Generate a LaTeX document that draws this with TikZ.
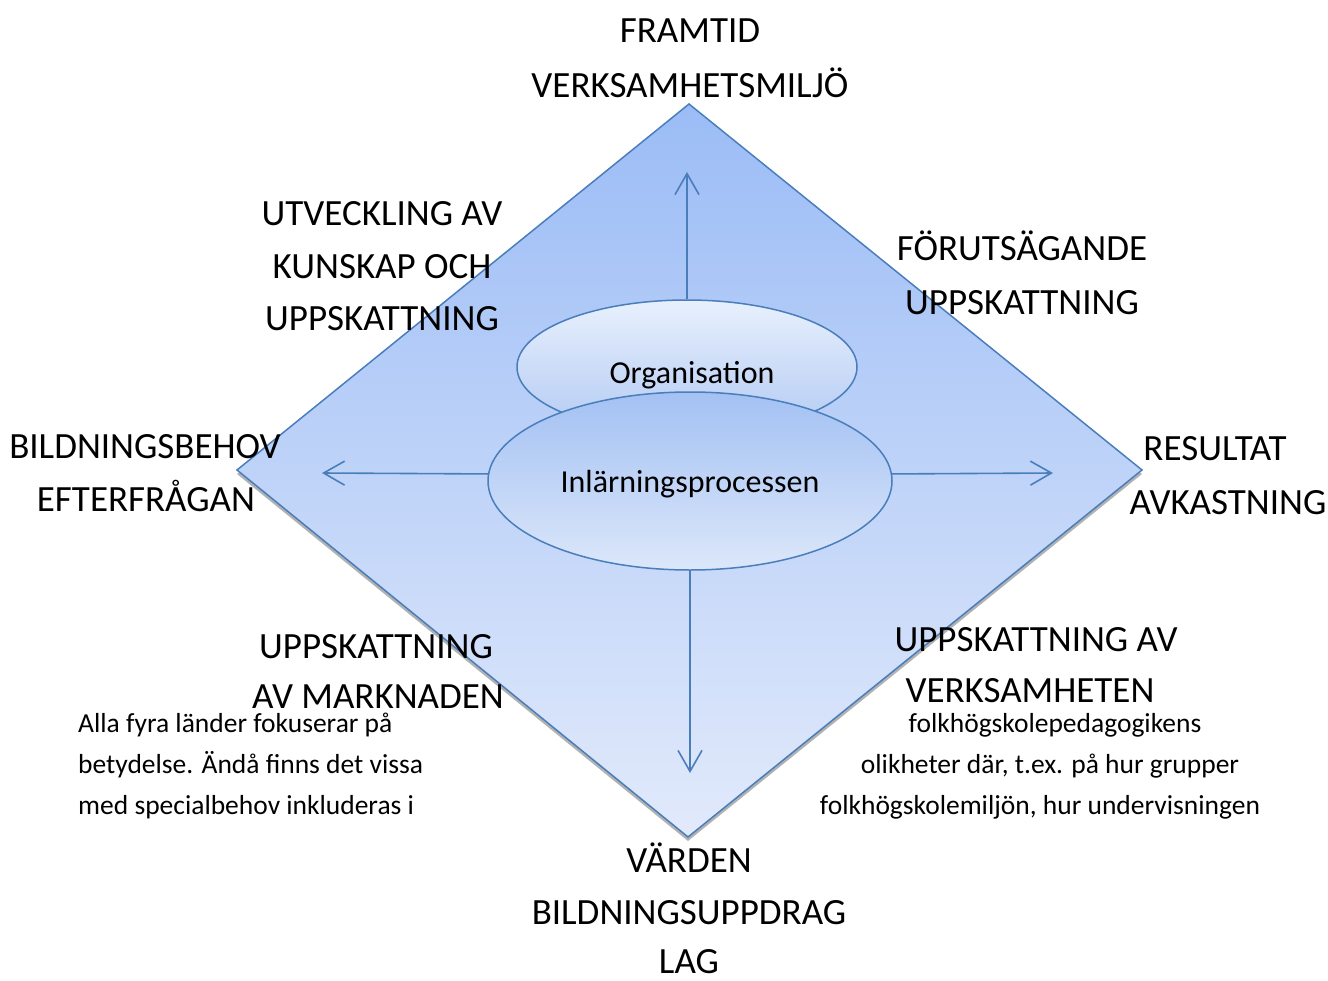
\documentclass[tikz,border=0pt]{standalone}
\usepackage{fontspec}
\setmainfont{Carlito}
\usetikzlibrary{arrows.meta,shadows,shapes.geometric}
\definecolor{edgeblue}{RGB}{74,126,187}
\definecolor{dtop}{RGB}{155,188,246}
\definecolor{dbot}{RGB}{226,234,251}
\definecolor{otop}{RGB}{232,240,253}
\definecolor{obot}{RGB}{178,202,243}
\definecolor{itop}{RGB}{163,193,243}
\definecolor{ibot}{RGB}{220,231,250}
\tikzset{
  big/.style={font=\fontsize{37}{54}\selectfont, inner sep=0pt, anchor=base},
  small/.style={font=\fontsize{27.5}{41}\selectfont, inner sep=0pt, anchor=base},
  etext/.style={font=\fontsize{32}{38}\selectfont, inner sep=0pt},
  oval/.style={ellipse, draw=edgeblue, line width=1.5pt, inner sep=0pt},
  arr/.style={draw=edgeblue, line width=1.6pt, -{Straight Barb[length=21pt,width=24pt,line width=1.6pt]}}
}
\begin{document}
\begin{tikzpicture}[x=1pt,y=-1pt]
\useasboundingbox (0,0) rectangle (1328,980);
% diamond
\path[draw=edgeblue, line width=1.5pt, top color=dtop, bottom color=dbot,
  drop shadow={shadow xshift=0pt, shadow yshift=-4pt, opacity=0.3, fill=black}]
  (689,104) -- (1142,470) -- (688,837) -- (237,470) -- cycle;
% arrow tips
\coordinate (upTip) at (687,172);
\coordinate (leftTip) at (322,473);
\coordinate (rightTip) at (1053,473);
\coordinate (downTip) at (690,773);
% ellipses
\node[oval, top color=otop, bottom color=obot, minimum width=340pt, minimum height=134pt] (org) at (687,367) {};
\node[oval, top color=itop, bottom color=ibot, minimum width=404pt, minimum height=178pt] (inl) at (690,481) {};
\node[etext] (orgl) at (692,375) {Organisation};
\node[etext] (inll) at (690,484) {Inlärningsprocessen};
% arrows
\draw[arr] (org.north) -- (upTip);
\draw[arr] (inl.178) -- (leftTip);
\draw[arr] (inl.2) -- (rightTip);
\draw[arr] (inl.south) -- (downTip);
% labels
\node[big] (t1) at (690,42) {FRAMTID};
\node[big] (t2) at (690,97) {VERKSAMHETSMILJÖ};
\node[big] (u1) at (382,225) {UTVECKLING AV};
\node[big] (u2) at (382,278) {KUNSKAP OCH};
\node[big] (u3) at (382,330) {UPPSKATTNING};
\node[big] (f1) at (1022,260) {FÖRUTSÄGANDE};
\node[big] (f2) at (1022,314) {UPPSKATTNING};
\node[big] (b1) at (145,458) {BILDNINGSBEHOV};
\node[big] (b2) at (146,511) {EFTERFRÅGAN};
\node[big] (r1) at (1215,460) {RESULTAT};
\node[big] (r2) at (1228,514) {AVKASTNING};
\node[big] (m1) at (376,658) {UPPSKATTNING};
\node[big] (m2) at (378,708) {AV MARKNADEN};
\node[big] (v1) at (1036,651) {UPPSKATTNING AV};
\node[big] (v2) at (1030,702) {VERKSAMHETEN};
\node[big] (w1) at (689,872) {VÄRDEN};
\node[big] (w2) at (689,924) {BILDNINGSUPPDRAG};
\node[big] (w3) at (689,973) {LAG};
% small texts
\node[small, anchor=base west] (s1) at (78,732) {Alla fyra länder fokuserar på};
\node[small, anchor=base west] (s2) at (78,773) {betydelse. Ändå finns det vissa};
\node[small, anchor=base west] (s3) at (78,814) {med specialbehov inkluderas i};
\node[small] (p1) at (1055,732) {folkhögskolepedagogikens};
\node[small] (p2) at (1050,773) {olikheter där, t.ex. på hur grupper};
\node[small] (p3) at (1040,814) {folkhögskolemiljön, hur undervisningen};
\end{tikzpicture}
\end{document}
